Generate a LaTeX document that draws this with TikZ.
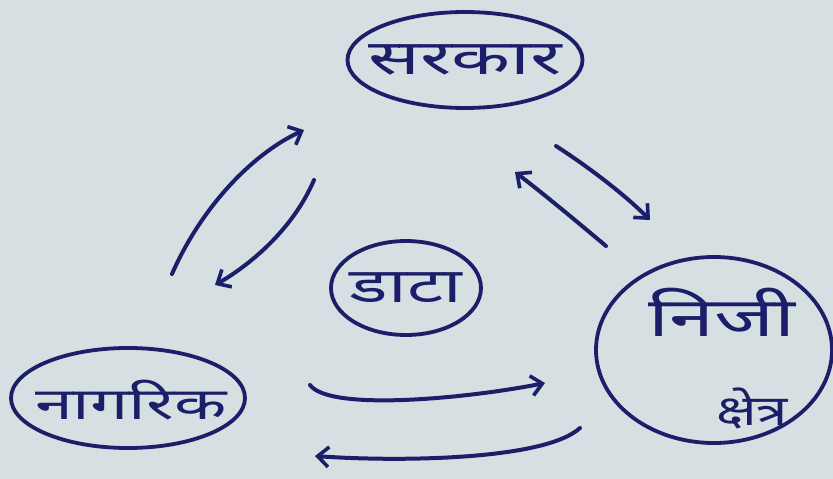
\documentclass[tikz,border=0pt]{standalone}
\usepackage{fontspec}
\newfontfamily\deva[Script=Devanagari]{Noto Sans}
\usetikzlibrary{shapes.geometric,arrows.meta}
\definecolor{paper}{HTML}{D6DFE1}
\definecolor{ink}{HTML}{1C1E6A}
\newcommand{\hw}[3]{{\fontsize{#1}{#1}\selectfont\scalebox{#2}[1]{#3}}}
\tikzset{
  bubble/.style={ellipse, draw=ink, line width=3.8pt, inner sep=0pt},
  word/.style={text=ink, inner sep=0pt, font=\deva\bfseries},
  flow/.style={draw=ink, line width=4pt, line cap=round, -{Straight Barb[length=11pt,width=20pt,line width=3.6pt]}}
}
\begin{document}
\begin{tikzpicture}[x=1pt,y=-1pt]
\fill[paper] (0,0) rectangle (833,479);
\useasboundingbox (0,0) rectangle (833,479);
\node[bubble, minimum width=235pt, minimum height=96pt] (sarkar) at (465,60) {};
\node[word] (sarkartext) at (sarkar) {\hw{48}{1.6}{सरकार}};
\node[bubble, minimum width=150pt, minimum height=94pt] (data) at (406,288) {};
\node[word] (datatext) at (data) {\hw{48}{1.5}{डाटा}};
\node[bubble, minimum width=234pt, minimum height=100pt] (nagrik) at (128,398) {};
\node[word] (nagriktext) at (131,400) {\hw{44}{1.55}{नागरिक}};
\node[bubble, minimum width=236pt, minimum height=186pt] (niji) at (714,350) {};
\node[word] (nijitext) at (722,312) {\hw{54}{1.5}{निजी}};
\node[word] (kshetra) at (752,408) {\hw{42}{1.35}{क्षेत्र}};
% left pair
\coordinate (l1s) at (172,274);
\coordinate (l1e) at (304,130);
\coordinate (l2s) at (314,180);
\coordinate (l2e) at (215,285);
\draw[flow] (l1s) .. controls (200,210) and (250,155) .. (l1e);
\draw[flow] (l2s) .. controls (295,225) and (255,262) .. (l2e);
% right pair
\coordinate (r1s) at (556,146);
\coordinate (r1e) at (650,220);
\coordinate (r2s) at (606,246);
\coordinate (r2e) at (515,172);
\draw[flow] (r1s) .. controls (590,168) and (625,195) .. (r1e);
\draw[flow] (r2s) .. controls (575,220) and (545,195) .. (r2e);
% bottom pair
\coordinate (b1s) at (310,385);
\coordinate (b1e) at (545,383);
\coordinate (b2s) at (580,428);
\coordinate (b2e) at (315,456);
\draw[flow] (b1s) .. controls (330,412) and (470,398) .. (b1e);
\draw[flow] (b2s) .. controls (545,460) and (400,462) .. (b2e);
\end{tikzpicture}
\end{document}
